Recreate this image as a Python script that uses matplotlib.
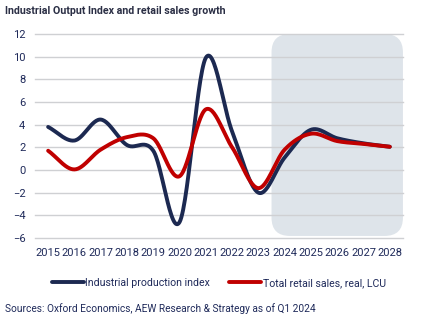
import numpy as np
import matplotlib
matplotlib.use('Agg')
import matplotlib.pyplot as plt
from matplotlib.patches import FancyBboxPatch

plt.rcParams['font.family'] = ['Roboto', 'DejaVu Sans']

years = [2015, 2016, 2017, 2018, 2019, 2020, 2021, 2022, 2023, 2024, 2025, 2026, 2027, 2028]
industrial = [3.8, 2.6, 4.45, 2.2, 1.7, -4.6, 9.9, 3.4, -2.0, 1.1, 3.55, 2.8, 2.35, 2.05]
retail = [1.7, 0.05, 1.8, 2.9, 2.8, -0.55, 5.35, 2.0, -1.6, 1.8, 3.2, 2.55, 2.3, 2.05]
forecast_from = 2024

navy = '#1c2951'
red = '#c00000'
text_col = '#1f2a5a'


# smooth curve through the yearly points (Catmull-Rom, like Excel smoothed lines)
def smooth(x, y, n=30):
    x = np.asarray(x, float)
    y = np.asarray(y, float)
    px = np.concatenate([[2 * x[0] - x[1]], x, [2 * x[-1] - x[-2]]])
    py = np.concatenate([[2 * y[0] - y[1]], y, [2 * y[-1] - y[-2]]])
    xs, ys = [], []
    t = np.linspace(0, 1, n)
    for i in range(1, len(px) - 2):
        p0, p1, p2, p3 = py[i - 1], py[i], py[i + 1], py[i + 2]
        m1 = (p2 - p0) / 2
        m2 = (p3 - p1) / 2
        h00 = 2 * t**3 - 3 * t**2 + 1
        h10 = t**3 - 2 * t**2 + t
        h01 = -2 * t**3 + 3 * t**2
        h11 = t**3 - t**2
        ys.append(h00 * p1 + h10 * m1 + h01 * p2 + h11 * m2)
        xs.append(px[i] + t * (px[i + 1] - px[i]))
    return np.concatenate(xs), np.concatenate(ys)


fig = plt.figure(figsize=(4.21, 3.21), dpi=100)
ax = fig.add_axes([0.0831, 0.2586, 0.874, 0.6355])

x0, x1 = 2014.5, 2028.5
ax.set_xlim(x0, x1)
ax.set_ylim(-6, 12)

# forecast period box with rounded corners
bw = (x1 - (forecast_from - 0.5)) / (x1 - x0)
bx = ((forecast_from - 0.5) - x0) / (x1 - x0)
box = FancyBboxPatch((bx, 0.01), bw, 0.99,
                     boxstyle='round,pad=0,rounding_size=0.05',
                     mutation_aspect=1.8, transform=ax.transAxes,
                     facecolor='#dee4ea', edgecolor='none', zorder=0)
ax.add_patch(box)

for v in range(-6, 13, 2):
    ax.axhline(v, color='#cfd0d3', lw=1, zorder=1, clip_on=False)

xs, ys = smooth(years, industrial)
ax.plot(xs, ys, color=navy, lw=2.8, solid_capstyle='round', zorder=3,
        label='Industrial production index')
xs, ys = smooth(years, retail)
ax.plot(xs, ys, color=red, lw=2.8, solid_capstyle='round', zorder=4,
        label='Total retail sales, real, LCU')

ax.set_xticks(years)
ax.set_yticks(range(-6, 13, 2))
ax.tick_params(length=0, labelsize=8, colors=text_col, pad=7)
for s in ax.spines.values():
    s.set_visible(False)

ax.legend(loc='upper center', bbox_to_anchor=(0.5, -0.15), ncol=2, frameon=False,
          fontsize=7.6, handlelength=3.0, handletextpad=0.15, columnspacing=1.8,
          labelcolor=text_col)

fig.text(0.012, 0.965, 'Industrial Output Index and retail sales growth',
         fontsize=7.7, fontweight='bold', color='#2b2f45', va='center')
fig.text(0.012, 0.038, 'Sources: Oxford Economics, AEW Research & Strategy as of Q1 2024',
         fontsize=7.3, color=text_col, va='center')

fig.savefig('out.png', dpi=100)
